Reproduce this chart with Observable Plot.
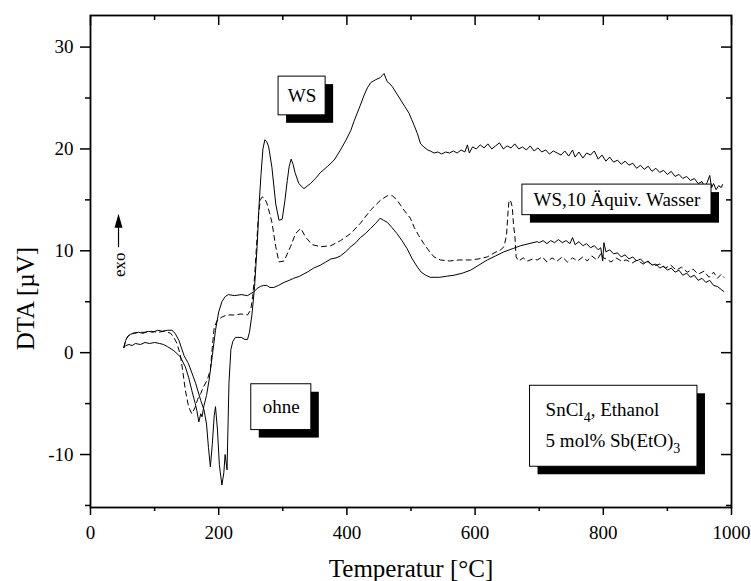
<!DOCTYPE html>
<html><head><meta charset="utf-8">
<script src="https://cdn.jsdelivr.net/npm/d3@7"></script>
<script src="https://cdn.jsdelivr.net/npm/@observablehq/plot@0.6"></script>
<style>body{margin:0;background:#fff;}</style>
</head><body><div id="chart"></div>
<script>
// ---- Data ----
const wsT = [52,55,58,62,68,75,82,90,97,105,112,120,127,132,138,146,153,160,164,172,177,181,184,187,190,193,195,198,201,205,208,210,213,216,219,222,226,235,241,245,248,252,256,260,263,266,269,272,275,278,283,289,294,299,303,307,310,313,316,319,325,333,343,351,359,370,380,390,398,406,411,416,421,427,432,437,445,452,455,458,461,463,467,471,477,484,490,497,501,505,510,515,520,526,
530,536,542,548,554,560,566,572,578,584,588,591,596,602,608,614,620,626,632,638,644,650,656,662,668,674,680,686,692,698,704,710,716,722,728,734,740,746,752,756,762,768,774,780,786,792,798,804,810,816,822,828,834,840,846,852,858,864,870,876,882,888,894,900,906,912,918,924,930,936,942,948,954,958,962,966,969,972,976,980,984,986];
const wsV = [0.5,1.2,1.6,1.8,1.9,2.0,1.9,2.1,2.0,2.2,2.1,2.2,2.2,1.9,1.2,-0.3,-1.1,-2.3,-3.0,-4.7,-5.6,-7.0,-9.3,-11.2,-9.0,-6.2,-5.3,-7.5,-11.0,-13.0,-11.8,-10.0,-11.5,-3.0,0.3,1.1,1.5,1.5,1.3,1.3,2.0,3.8,6.5,10.5,14.5,17.5,20.0,20.9,20.7,20.2,18.2,14.6,13.0,13.1,14.8,16.9,18.3,19.0,18.5,17.7,16.6,16.1,16.6,17.1,17.7,18.3,18.9,19.9,20.8,21.8,22.7,23.5,24.3,25.3,26.0,26.5,26.8,27.0,27.2,27.4,26.9,26.6,26.4,26.1,25.5,24.8,24.2,23.5,22.9,22.3,21.5,20.5,20.2,19.9,
19.8,19.6,19.7,19.5,19.7,19.6,19.8,19.6,19.9,19.7,20.4,19.6,20.2,20.0,20.4,20.1,20.5,20.0,20.3,20.6,20.0,20.3,20.1,20.5,20.0,20.2,19.9,20.3,19.8,20.1,19.7,19.9,19.5,19.8,19.6,19.4,19.8,19.3,19.9,19.2,19.7,19.1,19.6,19.4,19.8,19.0,19.4,18.8,19.2,18.7,18.9,18.5,18.8,18.4,18.6,18.1,18.4,18.0,18.3,17.8,18.1,17.7,17.9,17.5,17.8,17.3,17.5,17.1,17.3,16.9,17.1,16.6,16.8,16.3,16.7,17.4,16.2,16.6,16.0,16.4,16.2,16.5];

const wasserT = [52,55,60,65,75,85,95,105,115,125,130,135,140,143,148,153,158,163,167,172,176,182,187,190,193,198,205,213,225,235,245,250,253,256,259,262,265,268,272,275,279,283,289,294,302,312,320,328,336,346,359,375,390,406,421,437,453,463,471,478,489,499,505,512,520,528,536,546,
560,575,593,605,619,630,640,645,649,651,653,656,658,660,662,664,668,675,682,690,697,705,712,720,728,736,744,752,760,768,775,782,790,797,800,805,812,820,828,836,845,853,862,870,879,888,897,905,914,922,931,940,948,957,965,972,978,984,988];
const wasserV = [0.5,1.3,1.7,1.9,2.0,2.0,2.1,2.0,2.1,1.9,1.5,0.9,-0.2,-1.4,-3.7,-5.3,-6.0,-5.4,-4.6,-4.0,-3.4,-2.7,-1.7,0.5,2.5,3.2,3.5,3.7,3.7,3.8,3.7,4.2,5.5,7.5,10.5,13.5,15.0,15.3,15.1,14.7,13.8,12.8,10.4,8.9,9.0,10.4,11.7,12.2,11.3,10.6,10.4,10.5,11.0,11.7,12.7,14.0,15.0,15.4,15.4,15.0,14.0,13.2,12.3,11.5,10.7,10.0,9.4,9.1,
9.0,9.1,9.1,9.2,9.4,9.8,10.1,10.4,11.5,13.5,15.0,14.8,14.3,12.5,11.5,9.4,9.0,9.3,9.0,9.2,9.1,9.4,8.9,9.3,9.0,9.4,8.9,9.3,9.0,9.4,9.0,9.5,9.1,9.8,9.3,9.2,8.9,9.3,9.0,9.1,8.8,9.1,8.7,8.9,8.5,8.7,8.3,8.6,8.1,8.4,7.9,8.2,7.7,8.0,7.4,7.9,7.3,7.7,7.4];

const ohneT = [52,55,60,65,70,78,85,92,100,108,114,120,130,140,148,153,158,163,166,169,172,174,177,181,185,190,195,200,205,210,215,225,235,245,250,255,260,265,270,275,280,286,293,302,310,317,326,338,348,359,367,375,383,390,398,406,414,421,429,437,445,452,457,463,470,478,486,494,502,510,516,523,530,536,545,555,567,580,593,606,619,632,645,658,671,684,697,
700,706,712,718,724,730,736,742,748,752,756,762,768,774,780,786,792,796,799,801,804,810,816,822,828,834,840,846,852,858,864,870,876,882,888,894,900,906,912,918,924,930,936,942,948,954,960,966,972,978,984,988];
const ohneV = [0.5,0.7,0.8,0.7,0.9,0.8,1.0,0.9,1.0,0.9,0.8,0.6,0.2,-0.4,-1.4,-2.4,-3.7,-4.9,-5.7,-6.8,-6.0,-6.3,-5.2,-4.2,-2.7,-0.3,2.2,4.0,5.0,5.5,5.7,5.6,5.7,5.6,5.8,6.0,6.3,6.5,6.6,6.6,6.4,6.4,6.6,6.9,7.1,7.3,7.5,7.9,8.3,8.6,8.9,9.2,9.3,9.5,9.9,10.4,10.8,11.3,11.7,12.2,12.7,13.2,13.0,12.8,12.3,11.7,11.0,10.2,9.2,8.4,7.9,7.6,7.4,7.4,7.4,7.5,7.6,7.8,8.1,8.6,9.1,9.5,9.9,10.2,10.5,10.7,10.9,
10.8,11.0,10.7,11.0,10.8,11.1,10.8,11.0,10.7,11.3,10.6,10.9,10.5,10.7,10.3,10.5,10.1,10.3,9.0,10.8,9.9,10.1,9.7,9.8,9.4,9.6,9.2,9.4,9.0,9.2,8.8,9.0,8.6,8.7,8.3,8.5,8.1,8.3,7.9,8.1,7.6,7.8,7.4,7.6,7.1,7.3,6.9,7.1,6.6,6.5,6.2,6.0];

const seriesNames = ["WS", "WS,10 Äquiv. Wasser", "ohne"];
const xMajor = [0, 200, 400, 600, 800, 1000];
const xMinor = [100, 300, 500, 700, 900];
const yMajor = [-10, 0, 10, 20, 30];
const yMinor = [-15, -5, 5, 15, 25];
const axisTitles = ["Temperatur [°C]", "DTA [µV]"];

// annotation boxes (data coordinates)
const boxLabels = ["WS", "ohne", "WS,10 Äquiv. Wasser", ""];
const boxX1 = [293.4, 250.8, 673.8, 685.7];
const boxX2 = [366.8, 344.5, 968.8, 946.9];
const boxY1 = [23.3, -7.6, 13.5, -11.2];
const boxY2 = [27.1, -3.1, 16.5, -3.25];
const infoLines = ["SnCl4, Ethanol", "5 mol% Sb(EtO)3"];
const infoY = [-5.6, -8.7];

// ---- build tables ----
function rowsOf(T, V, name) { return T.map((t, i) => ({series: name, T: t, V: V[i]})); }
const ws = rowsOf(wsT, wsV, seriesNames[0]);
const wasser = rowsOf(wasserT, wasserV, seriesNames[1]);
const ohne = rowsOf(ohneT, ohneV, seriesNames[2]);
const boxes = boxLabels.map((l, i) => ({label: l, x1: boxX1[i], x2: boxX2[i], y1: boxY1[i], y2: boxY2[i],
  cx: (boxX1[i] + boxX2[i]) / 2, cy: (boxY1[i] + boxY2[i]) / 2}));
const info = infoLines.map((t, i) => ({t, y: infoY[i]}));

const W = 751, H = 581, mL = 90, mR = 20, mT = 15, mB = 74;
const iw = W - mL - mR, ih = H - mT - mB;

const arrowHead = {draw(ctx) { ctx.moveTo(0, -7); ctx.lineTo(4, 7); ctx.lineTo(-4, 7); ctx.closePath(); }};

const chart = Plot.plot({
  width: W, height: H,
  marginLeft: mL, marginRight: mR, marginTop: mT, marginBottom: mB,
  x: {domain: [0, 1000], label: null},
  y: {domain: [-15.2, 33.1], label: null},
  style: {fontFamily: "'Liberation Serif', 'Times New Roman', serif", fontSize: "19px", background: "white", color: "black"},
  marks: [
    Plot.line(ws, {x: "T", y: "V", stroke: "black", strokeWidth: 1}),
    Plot.line(ohne, {x: "T", y: "V", stroke: "black", strokeWidth: 1}),
    Plot.line(wasser, {x: "T", y: "V", stroke: "black", strokeWidth: 1, strokeDasharray: "5,4"}),
    // label boxes with shadows
    Plot.rect(boxes, {x1: "x1", x2: "x2", y1: "y1", y2: "y2", fill: "black", dx: 8, dy: 8}),
    Plot.rect(boxes, {x1: "x1", x2: "x2", y1: "y1", y2: "y2", fill: "white", stroke: "black", strokeWidth: 1}),
    Plot.text(boxes.filter(d => d.label), {x: "cx", y: "cy", text: "label", fontSize: 19}),
    Plot.text(info, {x: 710, y: "y", text: "t", textAnchor: "start", fontSize: 19}),
    // exo arrow
    Plot.ruleX([43.7], {y1: 10.3, y2: 12.3, stroke: "black", strokeWidth: 1.2}),
    Plot.dot([43.7], {x: d => d, y: 12.96, symbol: arrowHead, fill: "black", stroke: "none"}),
    Plot.text(["exo"], {x: 46, y: 8.64, rotate: -90, fontSize: 17}),
    // frame & ticks
    Plot.frame({stroke: "black", strokeWidth: 1.8}),
    Plot.axisX({ticks: xMajor, tickSize: 8, tickPadding: 10, tickFormat: d => String(d), label: null, strokeWidth: 1.5}),
    Plot.axisX({ticks: xMinor, tickSize: 4, tickFormat: () => "", label: null, strokeWidth: 1.5}),
    Plot.axisY({ticks: yMajor, tickSize: 10, tickPadding: 7, tickFormat: d => String(d), label: null, strokeWidth: 1.5}),
    Plot.axisY({ticks: yMinor, tickSize: 5, tickFormat: () => "", label: null, strokeWidth: 1.5}),
    Plot.tickX(xMajor, {x: d => d, insetBottom: ih - 10, strokeWidth: 1.5}),
    Plot.tickX(xMinor, {x: d => d, insetBottom: ih - 5, strokeWidth: 1.5}),
    Plot.tickY(yMajor, {y: d => d, insetLeft: iw - 10, strokeWidth: 1.5}),
    Plot.tickY(yMinor, {y: d => d, insetLeft: iw - 5, strokeWidth: 1.5}),
    // axis titles
    Plot.text([axisTitles[0]], {x: 500, y: -21.2, fontSize: 25}),
    Plot.text([axisTitles[1]], {x: -101, y: 5.3, rotate: -90, fontSize: 25})
  ]
});

// subscripts for the info box
chart.querySelectorAll("text").forEach(t => {
  const s = t.textContent;
  const m = s === infoLines[0] ? [ "SnCl", "4", ", Ethanol" ] : s === infoLines[1] ? ["5 mol% Sb(EtO)", "3", ""] : null;
  if (!m) return;
  t.textContent = "";
  const ns = "http://www.w3.org/2000/svg";
  const a = document.createElementNS(ns, "tspan"); a.textContent = m[0]; t.appendChild(a);
  const b = document.createElementNS(ns, "tspan"); b.textContent = m[1]; b.setAttribute("dy", "6"); b.setAttribute("font-size", "14"); t.appendChild(b);
  if (m[2]) { const c = document.createElementNS(ns, "tspan"); c.textContent = m[2]; c.setAttribute("dy", "-6"); t.appendChild(c); }
});

document.getElementById("chart").appendChild(chart);
</script>
</body></html>
